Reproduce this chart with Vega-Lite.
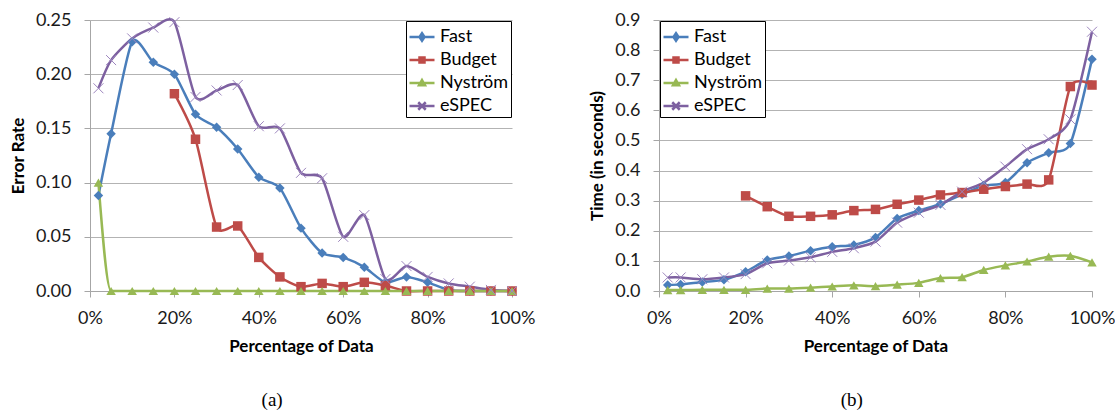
{
  "$schema": "https://vega.github.io/schema/vega-lite/v6.json",
  "autosize": {"type": "pad"},
  "padding": {"left": 9, "top": 11, "right": 0, "bottom": 0},
  "background": "#ffffff",
  "spacing": 53,
  "config": {
    "view": {"stroke": null},
    "axis": {
      "labelFont": "Lato", "labelFontSize": 18, "labelColor": "#1a1a1a",
      "titleFont": "Lato", "titleFontSize": 17, "titleFontWeight": "bold", "titleColor": "#000000",
      "domainColor": "#a6a6a6", "tickColor": "#a6a6a6", "gridColor": "#b3b3b3",
      "tickSize": 6, "labelFlush": false, "labelOverlap": false
    },
    "axisX": {"grid": false, "labelPadding": 12, "titlePadding": 11},
    "axisY": {"labelPadding": 13, "titlePadding": 8},
    "title": {"font": "Liberation Serif", "fontSize": 19, "fontWeight": "normal", "color": "#000000"}
  },
  "datasets": {
    "err": [
      {"pct": 0.02, "series": "Fast", "value": 0.088},
      {"pct": 0.05, "series": "Fast", "value": 0.145},
      {"pct": 0.10, "series": "Fast", "value": 0.230},
      {"pct": 0.15, "series": "Fast", "value": 0.211},
      {"pct": 0.20, "series": "Fast", "value": 0.200},
      {"pct": 0.25, "series": "Fast", "value": 0.163},
      {"pct": 0.30, "series": "Fast", "value": 0.151},
      {"pct": 0.35, "series": "Fast", "value": 0.131},
      {"pct": 0.40, "series": "Fast", "value": 0.105},
      {"pct": 0.45, "series": "Fast", "value": 0.095},
      {"pct": 0.50, "series": "Fast", "value": 0.058},
      {"pct": 0.55, "series": "Fast", "value": 0.035},
      {"pct": 0.60, "series": "Fast", "value": 0.031},
      {"pct": 0.65, "series": "Fast", "value": 0.022},
      {"pct": 0.70, "series": "Fast", "value": 0.008},
      {"pct": 0.75, "series": "Fast", "value": 0.013},
      {"pct": 0.80, "series": "Fast", "value": 0.008},
      {"pct": 0.85, "series": "Fast", "value": 0.001},
      {"pct": 0.90, "series": "Fast", "value": 0.0},
      {"pct": 0.95, "series": "Fast", "value": 0.0},
      {"pct": 1.00, "series": "Fast", "value": 0.0},
      {"pct": 0.20, "series": "Budget", "value": 0.182},
      {"pct": 0.25, "series": "Budget", "value": 0.140},
      {"pct": 0.30, "series": "Budget", "value": 0.059},
      {"pct": 0.35, "series": "Budget", "value": 0.060},
      {"pct": 0.40, "series": "Budget", "value": 0.031},
      {"pct": 0.45, "series": "Budget", "value": 0.013},
      {"pct": 0.50, "series": "Budget", "value": 0.004},
      {"pct": 0.55, "series": "Budget", "value": 0.007},
      {"pct": 0.60, "series": "Budget", "value": 0.004},
      {"pct": 0.65, "series": "Budget", "value": 0.008},
      {"pct": 0.70, "series": "Budget", "value": 0.005},
      {"pct": 0.75, "series": "Budget", "value": 0.0},
      {"pct": 0.80, "series": "Budget", "value": 0.0},
      {"pct": 0.85, "series": "Budget", "value": 0.0},
      {"pct": 0.90, "series": "Budget", "value": 0.0},
      {"pct": 0.95, "series": "Budget", "value": 0.0},
      {"pct": 1.00, "series": "Budget", "value": 0.0},
      {"pct": 0.02, "series": "Nyström", "value": 0.100},
      {"pct": 0.05, "series": "Nyström", "value": 0.0},
      {"pct": 0.10, "series": "Nyström", "value": 0.0},
      {"pct": 0.15, "series": "Nyström", "value": 0.0},
      {"pct": 0.20, "series": "Nyström", "value": 0.0},
      {"pct": 0.25, "series": "Nyström", "value": 0.0},
      {"pct": 0.30, "series": "Nyström", "value": 0.0},
      {"pct": 0.35, "series": "Nyström", "value": 0.0},
      {"pct": 0.40, "series": "Nyström", "value": 0.0},
      {"pct": 0.45, "series": "Nyström", "value": 0.0},
      {"pct": 0.50, "series": "Nyström", "value": 0.0},
      {"pct": 0.55, "series": "Nyström", "value": 0.0},
      {"pct": 0.60, "series": "Nyström", "value": 0.0},
      {"pct": 0.65, "series": "Nyström", "value": 0.0},
      {"pct": 0.70, "series": "Nyström", "value": 0.0},
      {"pct": 0.75, "series": "Nyström", "value": 0.0},
      {"pct": 0.80, "series": "Nyström", "value": 0.0},
      {"pct": 0.85, "series": "Nyström", "value": 0.0},
      {"pct": 0.90, "series": "Nyström", "value": 0.0},
      {"pct": 0.95, "series": "Nyström", "value": 0.0},
      {"pct": 1.00, "series": "Nyström", "value": 0.0},
      {"pct": 0.02, "series": "eSPEC", "value": 0.187},
      {"pct": 0.05, "series": "eSPEC", "value": 0.213},
      {"pct": 0.10, "series": "eSPEC", "value": 0.233},
      {"pct": 0.15, "series": "eSPEC", "value": 0.243},
      {"pct": 0.20, "series": "eSPEC", "value": 0.248},
      {"pct": 0.25, "series": "eSPEC", "value": 0.179},
      {"pct": 0.30, "series": "eSPEC", "value": 0.185},
      {"pct": 0.35, "series": "eSPEC", "value": 0.190},
      {"pct": 0.40, "series": "eSPEC", "value": 0.152},
      {"pct": 0.45, "series": "eSPEC", "value": 0.150},
      {"pct": 0.50, "series": "eSPEC", "value": 0.109},
      {"pct": 0.55, "series": "eSPEC", "value": 0.104},
      {"pct": 0.60, "series": "eSPEC", "value": 0.050},
      {"pct": 0.65, "series": "eSPEC", "value": 0.070},
      {"pct": 0.70, "series": "eSPEC", "value": 0.011},
      {"pct": 0.75, "series": "eSPEC", "value": 0.023},
      {"pct": 0.80, "series": "eSPEC", "value": 0.013},
      {"pct": 0.85, "series": "eSPEC", "value": 0.007},
      {"pct": 0.90, "series": "eSPEC", "value": 0.004},
      {"pct": 0.95, "series": "eSPEC", "value": 0.001},
      {"pct": 1.00, "series": "eSPEC", "value": 0.0}
    ],
    "time": [
      {"pct": 0.02, "series": "Fast", "value": 0.020},
      {"pct": 0.05, "series": "Fast", "value": 0.022},
      {"pct": 0.10, "series": "Fast", "value": 0.030},
      {"pct": 0.15, "series": "Fast", "value": 0.037},
      {"pct": 0.20, "series": "Fast", "value": 0.064},
      {"pct": 0.25, "series": "Fast", "value": 0.103},
      {"pct": 0.30, "series": "Fast", "value": 0.116},
      {"pct": 0.35, "series": "Fast", "value": 0.134},
      {"pct": 0.40, "series": "Fast", "value": 0.147},
      {"pct": 0.45, "series": "Fast", "value": 0.153},
      {"pct": 0.50, "series": "Fast", "value": 0.178},
      {"pct": 0.55, "series": "Fast", "value": 0.241},
      {"pct": 0.60, "series": "Fast", "value": 0.267},
      {"pct": 0.65, "series": "Fast", "value": 0.289},
      {"pct": 0.70, "series": "Fast", "value": 0.321},
      {"pct": 0.75, "series": "Fast", "value": 0.350},
      {"pct": 0.80, "series": "Fast", "value": 0.360},
      {"pct": 0.85, "series": "Fast", "value": 0.426},
      {"pct": 0.90, "series": "Fast", "value": 0.459},
      {"pct": 0.95, "series": "Fast", "value": 0.490},
      {"pct": 1.00, "series": "Fast", "value": 0.770},
      {"pct": 0.20, "series": "Budget", "value": 0.316},
      {"pct": 0.25, "series": "Budget", "value": 0.280},
      {"pct": 0.30, "series": "Budget", "value": 0.248},
      {"pct": 0.35, "series": "Budget", "value": 0.248},
      {"pct": 0.40, "series": "Budget", "value": 0.253},
      {"pct": 0.45, "series": "Budget", "value": 0.267},
      {"pct": 0.50, "series": "Budget", "value": 0.271},
      {"pct": 0.55, "series": "Budget", "value": 0.288},
      {"pct": 0.60, "series": "Budget", "value": 0.302},
      {"pct": 0.65, "series": "Budget", "value": 0.319},
      {"pct": 0.70, "series": "Budget", "value": 0.327},
      {"pct": 0.75, "series": "Budget", "value": 0.338},
      {"pct": 0.80, "series": "Budget", "value": 0.347},
      {"pct": 0.85, "series": "Budget", "value": 0.355},
      {"pct": 0.90, "series": "Budget", "value": 0.369},
      {"pct": 0.95, "series": "Budget", "value": 0.679},
      {"pct": 1.00, "series": "Budget", "value": 0.684},
      {"pct": 0.02, "series": "Nyström", "value": 0.003},
      {"pct": 0.05, "series": "Nyström", "value": 0.003},
      {"pct": 0.10, "series": "Nyström", "value": 0.004},
      {"pct": 0.15, "series": "Nyström", "value": 0.004},
      {"pct": 0.20, "series": "Nyström", "value": 0.004},
      {"pct": 0.25, "series": "Nyström", "value": 0.008},
      {"pct": 0.30, "series": "Nyström", "value": 0.008},
      {"pct": 0.35, "series": "Nyström", "value": 0.011},
      {"pct": 0.40, "series": "Nyström", "value": 0.015},
      {"pct": 0.45, "series": "Nyström", "value": 0.019},
      {"pct": 0.50, "series": "Nyström", "value": 0.016},
      {"pct": 0.55, "series": "Nyström", "value": 0.021},
      {"pct": 0.60, "series": "Nyström", "value": 0.027},
      {"pct": 0.65, "series": "Nyström", "value": 0.043},
      {"pct": 0.70, "series": "Nyström", "value": 0.046},
      {"pct": 0.75, "series": "Nyström", "value": 0.070},
      {"pct": 0.80, "series": "Nyström", "value": 0.085},
      {"pct": 0.85, "series": "Nyström", "value": 0.098},
      {"pct": 0.90, "series": "Nyström", "value": 0.114},
      {"pct": 0.95, "series": "Nyström", "value": 0.117},
      {"pct": 1.00, "series": "Nyström", "value": 0.095},
      {"pct": 0.02, "series": "eSPEC", "value": 0.045},
      {"pct": 0.05, "series": "eSPEC", "value": 0.045},
      {"pct": 0.10, "series": "eSPEC", "value": 0.039},
      {"pct": 0.15, "series": "eSPEC", "value": 0.045},
      {"pct": 0.20, "series": "eSPEC", "value": 0.056},
      {"pct": 0.25, "series": "eSPEC", "value": 0.092},
      {"pct": 0.30, "series": "eSPEC", "value": 0.101},
      {"pct": 0.35, "series": "eSPEC", "value": 0.112},
      {"pct": 0.40, "series": "eSPEC", "value": 0.130},
      {"pct": 0.45, "series": "eSPEC", "value": 0.142},
      {"pct": 0.50, "series": "eSPEC", "value": 0.164},
      {"pct": 0.55, "series": "eSPEC", "value": 0.227},
      {"pct": 0.60, "series": "eSPEC", "value": 0.260},
      {"pct": 0.65, "series": "eSPEC", "value": 0.286},
      {"pct": 0.70, "series": "eSPEC", "value": 0.330},
      {"pct": 0.75, "series": "eSPEC", "value": 0.360},
      {"pct": 0.80, "series": "eSPEC", "value": 0.413},
      {"pct": 0.85, "series": "eSPEC", "value": 0.471},
      {"pct": 0.90, "series": "eSPEC", "value": 0.504},
      {"pct": 0.95, "series": "eSPEC", "value": 0.570},
      {"pct": 1.00, "series": "eSPEC", "value": 0.861}
    ]
  },
  "hconcat": [
    {
      "width": 422,
      "height": 271,
      "title": {"text": "(a)", "orient": "bottom", "anchor": "middle", "frame": "bounds", "offset": 37},
      "data": {"name": "err"},
      "encoding": {
        "x": {"field": "pct", "type": "quantitative", "scale": {"domain": [0, 1], "nice": false},
              "axis": {"values": [0, 0.2, 0.4, 0.6, 0.8, 1], "format": ".0%", "title": "Percentage of Data"}},
        "y": {"field": "value", "type": "quantitative", "scale": {"domain": [0, 0.25], "nice": false},
              "axis": {"values": [0, 0.05, 0.1, 0.15, 0.2, 0.25], "format": ".2f", "title": "Error Rate"}}
      },
      "layer": [
        {
          "transform": [{"filter": "datum.series !== 'Nyström'"}],
          "mark": {"type": "line", "interpolate": "cardinal", "tension": 0.3, "strokeWidth": 2.5},
          "encoding": {
            "color": {"field": "series", "type": "nominal",
              "scale": {"domain": ["Fast", "Budget", "Nyström", "eSPEC"], "range": ["#4A7EBB", "#BE4B48", "#98B954", "#7D60A0"]},
              "legend": {
                "orient": "top-right", "offset": 1, "title": null,
                "strokeColor": "#000000", "fillColor": "#ffffff", "padding": 2,
                "labelFont": "Lato", "labelFontSize": 18, "labelColor": "#000000", "labelOffset": 4,
                "symbolSize": 625, "rowPadding": 0,
                "encode": {
                  "symbols": {
                    "update": {
                      "shape": {"signal": "datum.value === 'Fast' ? 'M-1,0L1,0M0,-0.3L0.2,0L0,0.3L-0.2,0Z' : datum.value === 'Budget' ? 'M-1,0L1,0M-0.2,-0.2L0.2,-0.2L0.2,0.2L-0.2,0.2Z' : datum.value === 'Nyström' ? 'M-1,0L1,0M0,-0.24L0.24,0.18L-0.24,0.18Z' : 'M-1,0L1,0M-0.3,-0.3L0.3,0.3M-0.3,0.3L0.3,-0.3'"},
                      "fill": {"signal": "datum.value === 'Fast' ? '#4A7EBB' : datum.value === 'Budget' ? '#BE4B48' : datum.value === 'Nyström' ? '#98B954' : '#7D60A0'"},
                      "stroke": {"signal": "datum.value === 'Fast' ? '#4A7EBB' : datum.value === 'Budget' ? '#BE4B48' : datum.value === 'Nyström' ? '#98B954' : '#7D60A0'"},
                      "strokeWidth": {"value": 2.5},
                      "opacity": {"value": 1}
                    }
                  }
                }
              }
            }
          }
        },
        {
          "transform": [{"filter": "datum.series === 'Nyström'"}],
          "mark": {"type": "line", "interpolate": "monotone", "strokeWidth": 2.5, "color": "#98B954"},
          "encoding": {}
        },
        {
          "transform": [{"filter": "datum.series !== 'eSPEC'"}],
          "mark": {"type": "point", "filled": true, "opacity": 1, "size": 90},
          "encoding": {
            "color": {"field": "series", "type": "nominal",
              "scale": {"domain": ["Fast", "Budget", "Nyström", "eSPEC"], "range": ["#4A7EBB", "#BE4B48", "#98B954", "#7D60A0"]},
              "legend": null},
            "shape": {"field": "series", "type": "nominal",
              "scale": {"domain": ["Fast", "Budget", "Nyström"], "range": ["diamond", "square", "triangle-up"]},
              "legend": null}
          }
        },
        {
          "transform": [{"filter": "datum.series === 'eSPEC'"}],
          "mark": {"type": "point", "shape": "M-1,-1L1,1M-1,1L1,-1", "filled": false, "size": 100, "strokeWidth": 1, "color": "#9D86BE", "opacity": 1},
          "encoding": {}
        }
      ]
    },
    {
      "width": 433,
      "height": 271,
      "title": {"text": "(b)", "orient": "bottom", "anchor": "middle", "frame": "bounds", "offset": 37},
      "data": {"name": "time"},
      "encoding": {
        "x": {"field": "pct", "type": "quantitative", "scale": {"domain": [0, 1], "nice": false},
              "axis": {"values": [0, 0.2, 0.4, 0.6, 0.8, 1], "format": ".0%", "title": "Percentage of Data"}},
        "y": {"field": "value", "type": "quantitative", "scale": {"domain": [0, 0.9], "nice": false},
              "axis": {"values": [0, 0.1, 0.2, 0.3, 0.4, 0.5, 0.6, 0.7, 0.8, 0.9], "format": ".1f", "title": "Time (in seconds)"}}
      },
      "layer": [
        {
          "transform": [{"filter": "datum.series !== 'Nyström'"}],
          "mark": {"type": "line", "interpolate": "cardinal", "tension": 0.3, "strokeWidth": 2.5},
          "encoding": {
            "color": {"field": "series", "type": "nominal",
              "scale": {"domain": ["Fast", "Budget", "Nyström", "eSPEC"], "range": ["#4A7EBB", "#BE4B48", "#98B954", "#7D60A0"]},
              "legend": {
                "orient": "top-left", "offset": 1, "title": null,
                "strokeColor": "#000000", "fillColor": "#ffffff", "padding": 2,
                "labelFont": "Lato", "labelFontSize": 18, "labelColor": "#000000", "labelOffset": 4,
                "symbolSize": 625, "rowPadding": 0,
                "encode": {
                  "symbols": {
                    "update": {
                      "shape": {"signal": "datum.value === 'Fast' ? 'M-1,0L1,0M0,-0.3L0.2,0L0,0.3L-0.2,0Z' : datum.value === 'Budget' ? 'M-1,0L1,0M-0.2,-0.2L0.2,-0.2L0.2,0.2L-0.2,0.2Z' : datum.value === 'Nyström' ? 'M-1,0L1,0M0,-0.24L0.24,0.18L-0.24,0.18Z' : 'M-1,0L1,0M-0.3,-0.3L0.3,0.3M-0.3,0.3L0.3,-0.3'"},
                      "fill": {"signal": "datum.value === 'Fast' ? '#4A7EBB' : datum.value === 'Budget' ? '#BE4B48' : datum.value === 'Nyström' ? '#98B954' : '#7D60A0'"},
                      "stroke": {"signal": "datum.value === 'Fast' ? '#4A7EBB' : datum.value === 'Budget' ? '#BE4B48' : datum.value === 'Nyström' ? '#98B954' : '#7D60A0'"},
                      "strokeWidth": {"value": 2.5},
                      "opacity": {"value": 1}
                    }
                  }
                }
              }
            }
          }
        },
        {
          "transform": [{"filter": "datum.series === 'Nyström'"}],
          "mark": {"type": "line", "interpolate": "cardinal", "tension": 0.3, "strokeWidth": 2.5, "color": "#98B954"},
          "encoding": {}
        },
        {
          "transform": [{"filter": "datum.series !== 'eSPEC'"}],
          "mark": {"type": "point", "filled": true, "opacity": 1, "size": 90},
          "encoding": {
            "color": {"field": "series", "type": "nominal",
              "scale": {"domain": ["Fast", "Budget", "Nyström", "eSPEC"], "range": ["#4A7EBB", "#BE4B48", "#98B954", "#7D60A0"]},
              "legend": null},
            "shape": {"field": "series", "type": "nominal",
              "scale": {"domain": ["Fast", "Budget", "Nyström"], "range": ["diamond", "square", "triangle-up"]},
              "legend": null}
          }
        },
        {
          "transform": [{"filter": "datum.series === 'eSPEC'"}],
          "mark": {"type": "point", "shape": "M-1,-1L1,1M-1,1L1,-1", "filled": false, "size": 100, "strokeWidth": 1, "color": "#9D86BE", "opacity": 1},
          "encoding": {}
        }
      ]
    }
  ]
}
